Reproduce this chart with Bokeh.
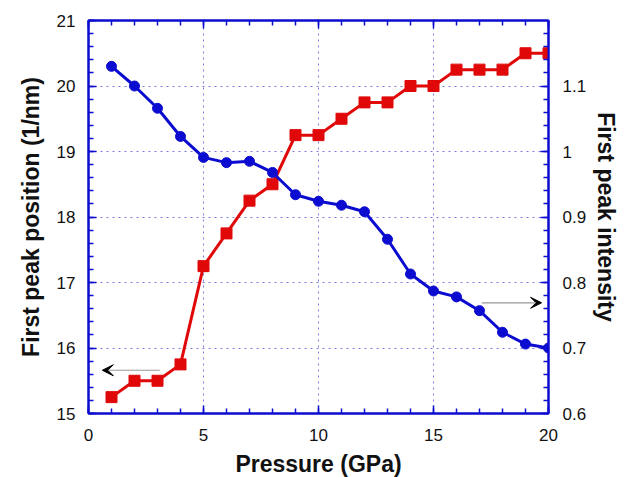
from bokeh.plotting import figure
from bokeh.models import (LinearAxis, Range1d, SingleIntervalTicker, Arrow, VeeHead)
from bokeh.embed import file_html
from bokeh.resources import INLINE

pressure = [1, 2, 3, 4, 5, 6, 7, 8, 9, 10, 11, 12, 13, 14, 15, 16, 17, 18, 19, 20]
peak_position = [15.25, 15.5, 15.5, 15.75, 17.25, 17.75, 18.25, 18.5, 19.25, 19.25,
                 19.5, 19.75, 19.75, 20.0, 20.0, 20.25, 20.25, 20.25, 20.5, 20.5]
peak_intensity = [1.130, 1.100, 1.066, 1.023, 0.991, 0.983, 0.985, 0.968, 0.934, 0.924,
                  0.918, 0.908, 0.866, 0.813, 0.787, 0.778, 0.757, 0.724, 0.706, 0.700]

# arrows pointing toward the relevant axis (x0, x1, y in left-axis units)
left_arrow = (3.1, 0.6, 15.66)
right_arrow = (17.1, 19.7, 16.69)

BLUE = "#0c0cd0"
RED = "#e00808"
FONT = "Liberation Sans"

p = figure(frame_width=460, frame_height=393, output_backend="svg", toolbar_location=None,
           x_range=Range1d(0, 20), y_range=Range1d(15, 21),
           min_border_left=88, min_border_right=56, min_border_top=20, min_border_bottom=60,
           x_axis_location=None, y_axis_location=None)
p.extra_y_ranges = {"int": Range1d(0.6, 1.2)}
p.outline_line_color = BLUE
p.outline_line_width = 2

bottom = LinearAxis(axis_label="Pressure (GPa)",
                    ticker=SingleIntervalTicker(interval=5, num_minor_ticks=5))
left = LinearAxis(axis_label="First peak position (1/nm)",
                  ticker=SingleIntervalTicker(interval=1, num_minor_ticks=5))
right = LinearAxis(y_range_name="int", axis_label="First peak intensity",
                   ticker=SingleIntervalTicker(interval=0.1, num_minor_ticks=5))
top = LinearAxis(ticker=SingleIntervalTicker(interval=5, num_minor_ticks=5))
p.add_layout(bottom, "below")
p.add_layout(left, "left")
p.add_layout(right, "right")
p.add_layout(top, "above")

for ax in [bottom, left, right, top]:
    ax.axis_line_color = BLUE
    ax.axis_line_width = 2
    ax.major_tick_line_color = BLUE
    ax.minor_tick_line_color = BLUE
    ax.major_tick_line_width = 1.5
    ax.minor_tick_line_width = 1.5
    ax.major_tick_in = 8
    ax.major_tick_out = 0
    ax.minor_tick_in = 5
    ax.minor_tick_out = 0
    ax.major_label_text_font = FONT
    ax.major_label_text_color = "#111111"
    ax.major_label_text_font_size = "17px"
    ax.major_label_standoff = 8
    ax.axis_label_text_font = FONT
    ax.axis_label_text_font_style = "bold"
    ax.axis_label_text_font_size = "23px"
    ax.axis_label_text_color = "#111111"
top.major_label_text_color = None
top.major_label_text_font_size = "1px"
bottom.major_label_standoff = 15
bottom.axis_label_standoff = 7
left.major_label_standoff = 13
left.axis_label_standoff = 10
right.major_label_standoff = 14
right.axis_label_standoff = 4

p.xgrid.ticker = bottom.ticker
p.ygrid.ticker = left.ticker
p.grid.grid_line_color = "#7c7ce0"
p.grid.grid_line_dash = "2 4"
p.grid.grid_line_width = 1

p.line(pressure, peak_position, line_color=RED, line_width=3)
p.scatter(pressure, peak_position, marker="square", size=11, fill_color=RED, line_color=RED)
p.line(pressure, peak_intensity, line_color=BLUE, line_width=3, y_range_name="int")
p.scatter(pressure, peak_intensity, marker="circle", size=10, fill_color=BLUE, line_color=BLUE,
          y_range_name="int")

for (x0, x1, y) in [left_arrow, right_arrow]:
    p.add_layout(Arrow(x_start=x0, x_end=x1, y_start=y, y_end=y, line_color="#999999",
                       line_width=1.2,
                       end=VeeHead(size=11, fill_color="black", line_color="black")))

open("out.html", "w").write(file_html(p, INLINE))
